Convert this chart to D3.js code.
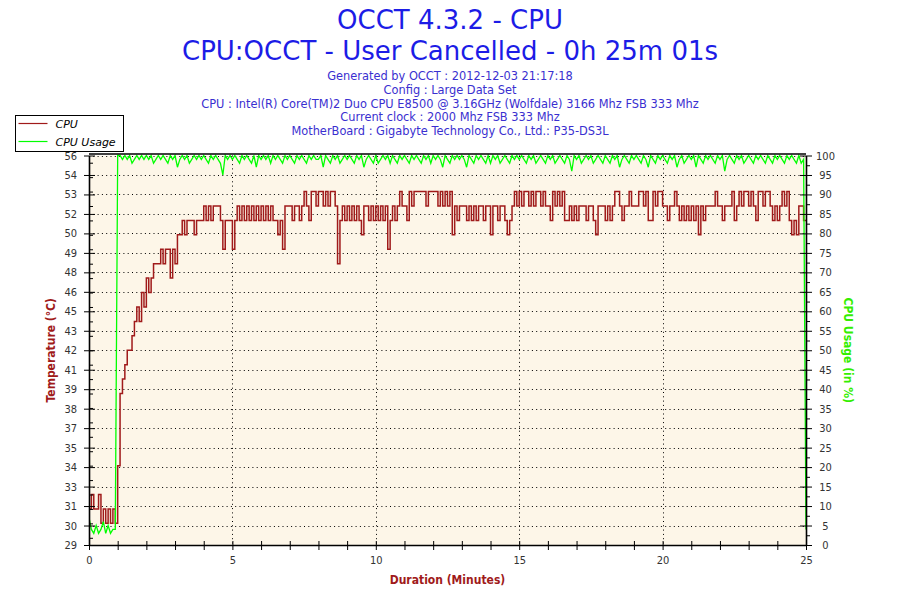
<!DOCTYPE html>
<html>
<head>
<meta charset="utf-8">
<script src="https://d3js.org/d3.v7.min.js"></script>
<style>
  body { margin: 0; background: #fff; }
  svg { display: block; }
  .axis .tick text { font-family: 'Liberation Sans Narrow', 'Arial Narrow', 'DejaVu Sans Condensed', sans-serif; font-size: 11px; fill: #333; }
  .axis .tick line { stroke: #000; }
  .axis path.domain { stroke: #000; stroke-width: 1.6; }
  .grid line { stroke: #000; stroke-width: 1; stroke-dasharray: 1 3.3; }
</style>
</head>
<body>
<div id="chart"></div>
<script>
// header texts
const titleLines = ['OCCT 4.3.2 - CPU', 'CPU:OCCT - User Cancelled - 0h 25m 01s'];
const infoLines = [
  'Generated by OCCT : 2012-12-03 21:17:18',
  'Config : Large Data Set',
  'CPU : Intel(R) Core(TM)2 Duo CPU E8500 @ 3.16GHz (Wolfdale) 3166 Mhz FSB 333 Mhz',
  'Current clock : 2000 Mhz FSB 333 Mhz',
  'MotherBoard : Gigabyte Technology Co., Ltd.: P35-DS3L'
];
const seriesNames = ['CPU', 'CPU Usage'];

// axes
const durationDomain = [0, 25];
const durationLabels = [0, 5, 10, 15, 20, 25];
const tempDomain = [28.5, 55.5];
const tempTickLabels = ['29', '30', '31', '33', '34', '35', '37', '38', '39', '41', '42', '43',
  '45', '46', '48', '49', '50', '52', '53', '54', '56'];
const usageDomain = [0, 100];

// samples every 5 seconds (12 per minute)
const sampleSeconds = 5;
const cpuTemp = [
  31, 32, 31, 31, 32, 30, 31, 30, 31, 30, 31, 30,
  34, 39, 40, 41, 42, 42, 43, 44, 45, 44, 46, 45,
  47, 46, 47, 48, 48, 48, 49, 48, 49, 49, 47, 49,
  48, 50, 50, 51, 50, 51, 51, 51, 50, 51, 51, 51,
  52, 51, 52, 51, 52, 52, 52, 51, 49, 51, 51, 51,
  49, 51, 52, 51, 52, 51, 52, 51, 52, 51, 52, 51,
  52, 51, 52, 51, 52, 51, 51, 50, 51, 49, 52, 52,
  52, 51, 52, 52, 51, 52, 53, 52, 51, 53, 53, 52,
  53, 53, 52, 53, 52, 53, 53, 52, 48, 51, 52, 51,
  52, 51, 52, 51, 52, 51, 50, 52, 52, 51, 52, 51,
  52, 51, 52, 51, 52, 49, 51, 52, 51, 52, 53, 52,
  52, 51, 53, 52, 53, 53, 53, 53, 53, 52, 53, 53,
  53, 53, 52, 53, 52, 53, 52, 53, 50, 52, 51, 52,
  52, 52, 51, 52, 51, 52, 51, 52, 52, 51, 52, 52,
  50, 52, 52, 51, 52, 52, 51, 50, 51, 52, 53, 52,
  53, 52, 53, 53, 52, 53, 52, 53, 53, 52, 53, 52,
  52, 51, 53, 52, 53, 52, 53, 51, 51, 52, 51, 52,
  51, 52, 52, 52, 51, 52, 52, 51, 50, 52, 52, 52,
  51, 52, 51, 52, 53, 53, 52, 51, 52, 52, 53, 52,
  52, 52, 53, 53, 52, 53, 51, 51, 53, 52, 53, 53,
  52, 52, 51, 52, 52, 53, 52, 51, 52, 51, 52, 51,
  52, 51, 52, 50, 52, 51, 52, 52, 52, 52, 53, 52,
  52, 51, 52, 52, 52, 53, 51, 52, 53, 52, 53, 53,
  52, 53, 52, 51, 53, 53, 52, 53, 53, 52, 51, 52,
  51, 52, 53, 52, 53, 51, 50, 51, 50, 52, 52, 51,
  51
];
const cpuUsage = [
  7, 4, 3, 5, 3, 4, 6, 3, 5, 3, 4, 4,
  100, 100, 99, 100, 99, 100, 98, 99, 100, 99, 100, 99,
  100, 99, 100, 98, 99, 100, 99, 100, 99, 98, 100, 99,
  100, 97, 99, 100, 99, 100, 98, 99, 100, 99, 100, 99,
  100, 99, 98, 100, 99, 100, 99, 98, 95, 100, 99, 100,
  99, 100, 99, 98, 100, 99, 100, 99, 98, 100, 97, 100,
  99, 100, 99, 100, 98, 100, 99, 100, 99, 98, 100, 99,
  100, 99, 98, 100, 99, 100, 99, 98, 100, 99, 100, 99,
  99, 100, 97, 100, 99, 98, 100, 99, 100, 98, 99, 100,
  99, 100, 99, 98, 100, 99, 100, 97, 99, 100, 99, 98,
  100, 98, 99, 100, 99, 100, 98, 100, 99, 98, 100, 99,
  100, 99, 98, 100, 99, 100, 99, 98, 100, 99, 100, 98,
  100, 99, 100, 99, 97, 100, 99, 98, 100, 99, 100, 99,
  100, 99, 97, 100, 99, 98, 100, 99, 100, 99, 98, 100,
  98, 100, 99, 100, 98, 99, 100, 99, 98, 100, 99, 100,
  99, 100, 99, 98, 100, 99, 100, 98, 99, 100, 99, 98,
  100, 99, 100, 98, 99, 100, 99, 98, 100, 99, 96, 100,
  99, 100, 98, 99, 100, 99, 100, 98, 99, 100, 99, 98,
  100, 99, 98, 100, 99, 100, 97, 99, 100, 99, 98, 100,
  99, 100, 99, 98, 100, 99, 97, 100, 99, 98, 100, 99,
  100, 99, 98, 100, 99, 100, 97, 99, 100, 98, 99, 100,
  99, 100, 97, 100, 99, 98, 100, 99, 100, 99, 98, 100,
  99, 100, 96, 99, 100, 99, 98, 100, 99, 100, 98, 99,
  100, 99, 98, 100, 99, 100, 99, 98, 100, 99, 98, 100,
  99, 100, 99, 98, 100, 99, 100, 99, 98, 100, 98, 99,
  4
];

const tempColor = '#a01a1a';
const usageColor = '#00ff00';
const titleColor = '#1c1ce6';
const infoColor = '#3a2fd0';

const W = 900, H = 600;
const plot = { left: 89, right: 806, top: 155.5, bottom: 545 };

const svg = d3.select('#chart').append('svg')
  .attr('width', W).attr('height', H)
  .attr('viewBox', `0 0 ${W} ${H}`);

const x = d3.scaleLinear().domain(durationDomain).range([plot.left, plot.right]);
const yT = d3.scaleLinear().domain(tempDomain).range([plot.bottom, plot.top]);
const yU = d3.scaleLinear().domain(usageDomain).range([plot.bottom, plot.top]);

// label positions: 20 equal steps of the temperature axis
const tempTicks = tempTickLabels.map((d, i) => tempDomain[0] + i * (tempDomain[1] - tempDomain[0]) / 20);
const tempMinor = d3.range(29, 56);
const usageTicks = d3.range(0, 101, 5);
const usageMinor = d3.range(2.5, 100, 5);
const minuteTicks = d3.range(0, 26);

// --- titles
svg.selectAll('text.title').data(titleLines).join('text')
  .attr('class', 'title')
  .attr('x', 450).attr('y', (d, i) => 29 + i * 31)
  .attr('text-anchor', 'middle')
  .style('font-family', "'DejaVu Sans', Verdana, sans-serif")
  .style('font-size', '26px')
  .attr('fill', titleColor)
  .text(d => d);

svg.selectAll('text.info').data(infoLines).join('text')
  .attr('class', 'info')
  .attr('x', 450).attr('y', (d, i) => 80 + i * 13.8)
  .attr('text-anchor', 'middle')
  .style('font-family', "'DejaVu Sans', Verdana, sans-serif")
  .style('font-size', '11.4px')
  .attr('fill', infoColor)
  .text(d => d);

// --- plot background and grid
svg.append('rect')
  .attr('x', plot.left).attr('y', plot.top)
  .attr('width', plot.right - plot.left).attr('height', plot.bottom - plot.top)
  .attr('fill', '#fdf6e8');

const grid = svg.append('g').attr('class', 'grid');
grid.selectAll('line.h').data(tempTicks.slice(1)).join('line')
  .attr('class', 'h')
  .attr('x1', plot.left).attr('x2', plot.right)
  .attr('y1', d => Math.round(yT(d)) + 0.5).attr('y2', d => Math.round(yT(d)) + 0.5);
grid.selectAll('line.v').data(durationLabels.slice(1, -1)).join('line')
  .attr('class', 'v')
  .attr('y1', plot.top).attr('y2', plot.bottom)
  .attr('x1', d => Math.round(x(d)) + 0.5).attr('x2', d => Math.round(x(d)) + 0.5);

// --- series
svg.append('clipPath').attr('id', 'clip').append('rect')
  .attr('x', plot.left).attr('y', plot.top - 2)
  .attr('width', plot.right - plot.left + 1).attr('height', plot.bottom - plot.top + 2);

const t = i => i * sampleSeconds / 60;

const tempLine = d3.line()
  .x((d, i) => x(t(i)))
  .y(d => yT(d))
  .curve(d3.curveStepAfter);

const usageLine = d3.line()
  .x((d, i) => x(t(i)))
  .y(d => yU(d));

const series = svg.append('g').attr('clip-path', 'url(#clip)');
series.append('path')
  .datum(cpuTemp)
  .attr('d', tempLine)
  .attr('fill', 'none')
  .attr('stroke', tempColor)
  .attr('stroke-width', 1.5);
series.append('path')
  .datum(cpuUsage)
  .attr('d', usageLine)
  .attr('fill', 'none')
  .attr('stroke', usageColor)
  .attr('stroke-width', 1.3);

// --- axes
function axisGroup(tx, ty) {
  return svg.append('g').attr('class', 'axis').attr('transform', `translate(${tx},${ty})`);
}

// left (temperature)
axisGroup(plot.left, 0).call(d3.axisRight(yT).tickValues(tempMinor).tickSize(4).tickSizeOuter(0).tickFormat(''))
  .select('.domain').remove();
axisGroup(plot.left, 0).call(d3.axisRight(yT).tickValues(tempTicks).tickSize(6).tickSizeOuter(0).tickFormat(''))
  .select('.domain').remove();
axisGroup(plot.left, 0).call(d3.axisLeft(yT).tickValues(tempTicks).tickSize(5).tickSizeOuter(0)
  .tickPadding(7).tickFormat((d, i) => tempTickLabels[i]));

// right (usage)
axisGroup(plot.right, 0).call(d3.axisRight(yU).tickValues(usageMinor).tickSize(4).tickSizeOuter(0).tickFormat(''))
  .select('.domain').remove();
axisGroup(plot.right, 0).call(d3.axisLeft(yU).tickValues(usageTicks).tickSize(6).tickSizeOuter(0).tickFormat(''))
  .select('.domain').remove();
const rightAxis = axisGroup(plot.right, 0)
  .call(d3.axisRight(yU).tickValues(usageTicks).tickSize(6).tickSizeOuter(0).tickFormat(d3.format('d')));
rightAxis.selectAll('.tick text').attr('x', 19.5).attr('text-anchor', 'middle');

// bottom (duration)
axisGroup(0, plot.bottom).call(d3.axisTop(x).tickValues(minuteTicks).tickSize(4).tickSizeOuter(0).tickFormat(''))
  .select('.domain').remove();
axisGroup(0, plot.bottom).call(d3.axisBottom(x).tickValues(minuteTicks).tickSize(5).tickSizeOuter(0)
  .tickPadding(6).tickFormat(d => durationLabels.includes(d) ? d : ''));

// top frame
svg.append('line')
  .attr('x1', plot.left).attr('x2', plot.right)
  .attr('y1', plot.top - 1.5).attr('y2', plot.top - 1.5)
  .attr('stroke', '#000').attr('stroke-width', 1.6);

// --- axis titles
const axisTitleFont = "'Liberation Sans Narrow', 'Arial Narrow', 'DejaVu Sans Condensed', sans-serif";
svg.append('text')
  .attr('x', (plot.left + plot.right) / 2).attr('y', 584)
  .attr('text-anchor', 'middle')
  .style('font-family', axisTitleFont).style('font-size', '12px').style('font-weight', 'bold')
  .attr('fill', tempColor)
  .text('Duration (Minutes)');
svg.append('text')
  .attr('transform', `translate(55,${(plot.top + plot.bottom) / 2}) rotate(-90)`)
  .attr('text-anchor', 'middle')
  .style('font-family', axisTitleFont).style('font-size', '12px').style('font-weight', 'bold')
  .attr('fill', tempColor)
  .text('Temperature (°C)');
svg.append('text')
  .attr('transform', `translate(844,${(plot.top + plot.bottom) / 2}) rotate(90)`)
  .attr('text-anchor', 'middle')
  .style('font-family', axisTitleFont).style('font-size', '12px').style('font-weight', 'bold')
  .attr('fill', '#33ee00')
  .text('CPU Usage (in %)');

// --- legend
const legend = svg.append('g').attr('transform', 'translate(15.5,115.5)');
legend.append('rect')
  .attr('width', 108).attr('height', 36)
  .attr('fill', '#fff').attr('stroke', '#000').attr('stroke-width', 1);
const items = legend.selectAll('g.item').data(seriesNames).join('g')
  .attr('class', 'item')
  .attr('transform', (d, i) => `translate(0,${8 + i * 18})`);
items.append('line')
  .attr('x1', 3).attr('x2', 32)
  .attr('stroke', (d, i) => i === 0 ? tempColor : usageColor)
  .attr('stroke-width', 1.2);
items.append('text')
  .attr('x', 40).attr('y', 4)
  .style('font-family', "'DejaVu Sans', Verdana, sans-serif")
  .style('font-size', '11px').style('font-style', 'italic')
  .attr('fill', '#000')
  .text(d => d);
</script>
</body>
</html>
